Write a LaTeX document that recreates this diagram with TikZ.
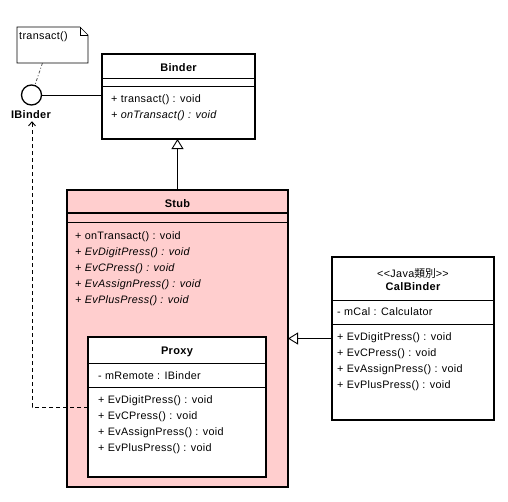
\documentclass[tikz,border=0pt]{standalone}
\usepackage{fontspec}
\setmainfont{Liberation Sans}[LetterSpace=3]
\newfontfamily\cjk{Noto Sans CJK TC}
\usetikzlibrary{arrows.meta,calc}
\definecolor{stubpink}{RGB}{255,206,206}
\begin{document}
\begin{tikzpicture}[x=1pt,y=-1pt,
  box/.style={draw=black, line width=1.8pt, inner sep=0pt, outer sep=0pt},
  titletext/.style={font=\fontsize{11}{12}\selectfont\bfseries, inner sep=0pt},
  member/.style={anchor=west, font=\fontsize{10.8}{12}\selectfont, inner sep=0pt},
  abst/.style={anchor=west, font=\fontsize{10.8}{12}\selectfont\itshape, inner sep=0pt},
  sepline/.style={line width=0.8pt},
  inherit/.style={line width=0.9pt, -{Triangle[open, length=10pt, width=12pt, line width=0.9pt]}},
  depend/.style={line width=0.9pt, dash pattern=on 4pt off 3pt, -{Straight Barb[length=4pt, width=7pt, line width=0.9pt]}},
]
\useasboundingbox (0,0) rectangle (508,501);
\fill[white] (0,0) rectangle (508,501);

% Note
\node[inner sep=0pt, outer sep=0pt, minimum width=71pt, minimum height=36pt] (note) at (52.5,45) {};
\draw[line width=0.7pt, fill=white] (note.north west) -- ($(note.north east)+(-8,0)$) -- ($(note.north east)+(0,8)$) -- (note.south east) -- (note.south west) -- cycle;
\draw[line width=0.7pt] ($(note.north east)+(-8,0)$) -- ($(note.north east)+(-8,8)$) -- ($(note.north east)+(0,8)$);
\node[member] (notetext) at (19,37) {transact()};

% Interface lollipop
\node[circle, draw, line width=1.3pt, minimum size=20pt, inner sep=0pt] (ib) at (31.5,95) {};
\node[titletext] (ibl) at (31,115) {IBinder};

% Binder
\node[box, minimum width=153pt, minimum height=85pt] (binder) at (178.5,96.5) {};
\draw[sepline] (binder.west |- 0,78) -- (binder.east |- 0,78);
\draw[sepline] (binder.west |- 0,86) -- (binder.east |- 0,86);
\node[titletext] (bindert) at (178.5,68) {Binder};
\node[member] (b1) at (111,100) {+ transact() : void};
\node[abst] (b2) at (111,116) {+ onTransact() : void};

% Stub
\node[box, fill=stubpink, line width=1.5pt, minimum width=221pt, minimum height=297pt] (stub) at (177.5,338.5) {};
\draw[line width=1.3pt] (stub.west |- 0,213) -- (stub.east |- 0,213);
\draw[sepline] (stub.west |- 0,222) -- (stub.east |- 0,222);
\node[titletext] (stubt) at (177.5,204) {Stub};
\node[member] (s1) at (75,237) {+ onTransact() : void};
\node[abst] (s2) at (75,253) {+ EvDigitPress() : void};
\node[abst] (s3) at (75,269) {+ EvCPress() : void};
\node[abst] (s4) at (75,285) {+ EvAssignPress() : void};
\node[abst] (s5) at (75,301) {+ EvPlusPress() : void};

% Proxy
\node[box, fill=white, line width=2.2pt, minimum width=178pt, minimum height=140pt] (proxy) at (177,407) {};
\draw[sepline] (proxy.west |- 0,363) -- (proxy.east |- 0,363);
\draw[sepline] (proxy.west |- 0,387) -- (proxy.east |- 0,387);
\node[titletext] (proxyt) at (177,352) {Proxy};
\node[member] (p0) at (98,376) {- mRemote : IBinder};
\node[member] (p1) at (98,401) {+ EvDigitPress() : void};
\node[member] (p2) at (98,417) {+ EvCPress() : void};
\node[member] (p3) at (98,433) {+ EvAssignPress() : void};
\node[member] (p4) at (98,449) {+ EvPlusPress() : void};

% CalBinder
\node[box, fill=white, minimum width=162pt, minimum height=163pt] (cal) at (413,338.5) {};
\draw[sepline] (cal.west |- 0,300) -- (cal.east |- 0,300);
\draw[sepline] (cal.west |- 0,324) -- (cal.east |- 0,324);
\node[member, anchor=center] (calst) at (413,273) {{<}{<}Java{\cjk 類別}{>}{>}};
\node[titletext] (calt) at (413,287) {CalBinder};
\node[member] (c0) at (337,312) {- mCal : Calculator};
\node[member] (c1) at (337,338) {+ EvDigitPress() : void};
\node[member] (c2) at (337,354) {+ EvCPress() : void};
\node[member] (c3) at (337,370) {+ EvAssignPress() : void};
\node[member] (c4) at (337,386) {+ EvPlusPress() : void};

% Connectors
\draw[line width=0.8pt, gray!70!black, dash pattern=on 3pt off 2pt on 1pt off 2pt] ($(note.south)+(-10,0)$) -- (ib);
\draw[line width=0.9pt] (ib) -- (ib -| binder.west);
\draw[inherit] (stub.north) -- (stub.north |- binder.south);
\draw[inherit] (cal.west) -- (stub.east);
\draw[depend] (proxy.west) -| ($(ibl.south)+(1,2)$);
\end{tikzpicture}
\end{document}
